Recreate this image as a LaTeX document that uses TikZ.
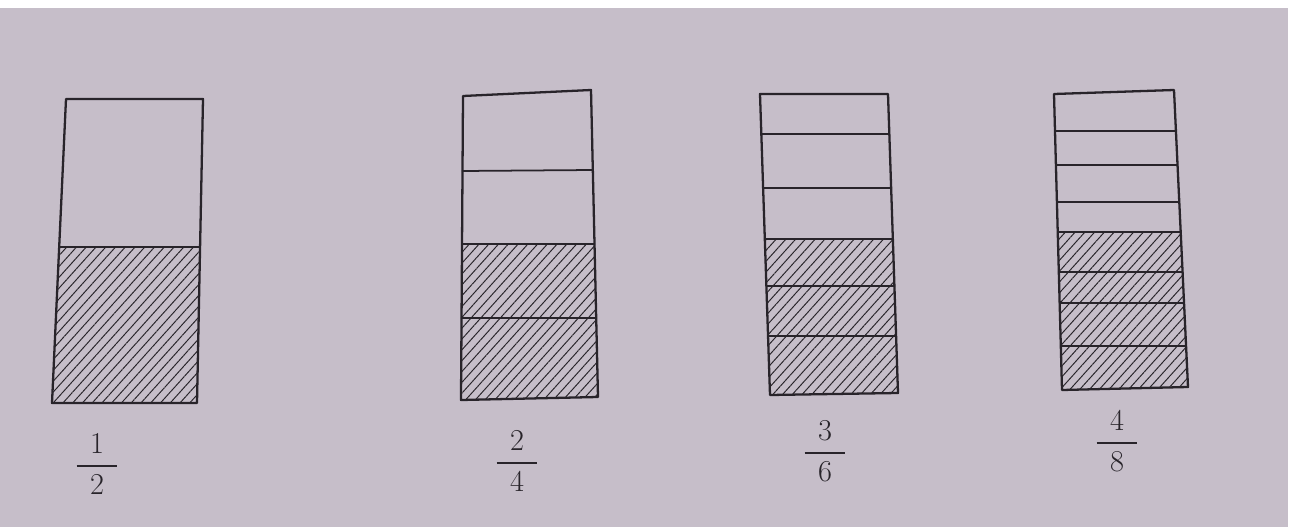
\documentclass[tikz,border=0pt]{standalone}
\usepackage{amsmath}
\usetikzlibrary{patterns.meta}

\definecolor{paper}{RGB}{198,190,201}
\definecolor{ink}{RGB}{40,36,42}

\newcommand*{\picw}{1299}
\newcommand*{\pich}{527}

\begin{document}
\begin{tikzpicture}
[
	x=0.02cm,y=-0.02cm,
	edge/.style={draw=ink,line width=1.3pt,line join=round},
	divider/.style={ink,line width=1pt,line cap=round},
	hatched/.style={pattern={Lines[angle=48,distance=0.145cm,line width=0.55pt]},pattern color=ink},
	fraclabel/.style={ink,inner sep=0pt,font=\fontsize{16}{19}\selectfont}
]

	% paper
	\useasboundingbox (0,0) rectangle (\picw,\pich);
	\fill[white] (0,0) rectangle (\picw,\pich);
	\fill[paper] (0,8) rectangle (1288,\pich);

	% bar one: halves
	\coordinate (onetl) at (66,99);
	\coordinate (onetr) at (203,99);
	\coordinate (onebr) at (197,403);
	\coordinate (onebl) at (52,403);
	\fill[hatched] (59,247) -- (200,247) -- (onebr) -- (onebl) -- cycle;
	\draw[divider] (59,247) -- (200,247);
	\draw[edge] (onetl) -- (onetr) -- (onebr) -- (onebl) -- cycle;
	\node[fraclabel] (onelab) at (97,464) {$\genfrac{}{}{1.2pt}{0}{\;\,1\;\,}{\;\,2\;\,}$};

	% bar two: quarters
	\coordinate (twotl) at (463,96);
	\coordinate (twotr) at (591,90);
	\coordinate (twobr) at (598,397);
	\coordinate (twobl) at (461,400);
	\fill[hatched] (462,244) -- (594.5,244) -- (twobr) -- (twobl) -- cycle;
	\draw[divider] (462.5,171) -- (592.8,170);
	\draw[divider] (462,244) -- (594.5,244);
	\draw[divider] (461.5,318) -- (596.2,318);
	\draw[edge] (twotl) -- (twotr) -- (twobr) -- (twobl) -- cycle;
	\node[fraclabel] (twolab) at (517,461) {$\genfrac{}{}{1.2pt}{0}{\;\,2\;\,}{\;\,4\;\,}$};

	% bar three: sixths
	\coordinate (threetl) at (760,94);
	\coordinate (threetr) at (888,94);
	\coordinate (threebr) at (898,393);
	\coordinate (threebl) at (770,395);
	\fill[hatched] (764.8,239) -- (892.8,239) -- (threebr) -- (threebl) -- cycle;
	\draw[divider] (761.3,134) -- (889.3,134);
	\draw[divider] (763.1,188) -- (891.1,188);
	\draw[divider] (764.8,239) -- (892.8,239);
	\draw[divider] (766.4,286) -- (894.4,286);
	\draw[divider] (768.0,336) -- (896.1,336);
	\draw[edge] (threetl) -- (threetr) -- (threebr) -- (threebl) -- cycle;
	\node[fraclabel] (threelab) at (825,451) {$\genfrac{}{}{1.2pt}{0}{\;\,3\;\,}{\;\,6\;\,}$};

	% bar four: eighths
	\coordinate (fourtl) at (1054,94);
	\coordinate (fourtr) at (1174,90);
	\coordinate (fourbr) at (1188,387);
	\coordinate (fourbl) at (1062,390);
	\fill[hatched] (1057.7,232) -- (1180.7,232) -- (fourbr) -- (fourbl) -- cycle;
	\draw[divider] (1055.0,131) -- (1175.9,131);
	\draw[divider] (1055.9,165) -- (1177.5,165);
	\draw[divider] (1056.9,202) -- (1179.3,202);
	\draw[divider] (1057.7,232) -- (1180.7,232);
	\draw[divider] (1058.8,272) -- (1182.6,272);
	\draw[divider] (1059.6,303) -- (1184.0,303);
	\draw[divider] (1060.8,346) -- (1186.1,346);
	\draw[edge] (fourtl) -- (fourtr) -- (fourbr) -- (fourbl) -- cycle;
	\node[fraclabel] (fourlab) at (1117,441) {$\genfrac{}{}{1.2pt}{0}{\;\,4\;\,}{\;\,8\;\,}$};

\end{tikzpicture}
\end{document}
